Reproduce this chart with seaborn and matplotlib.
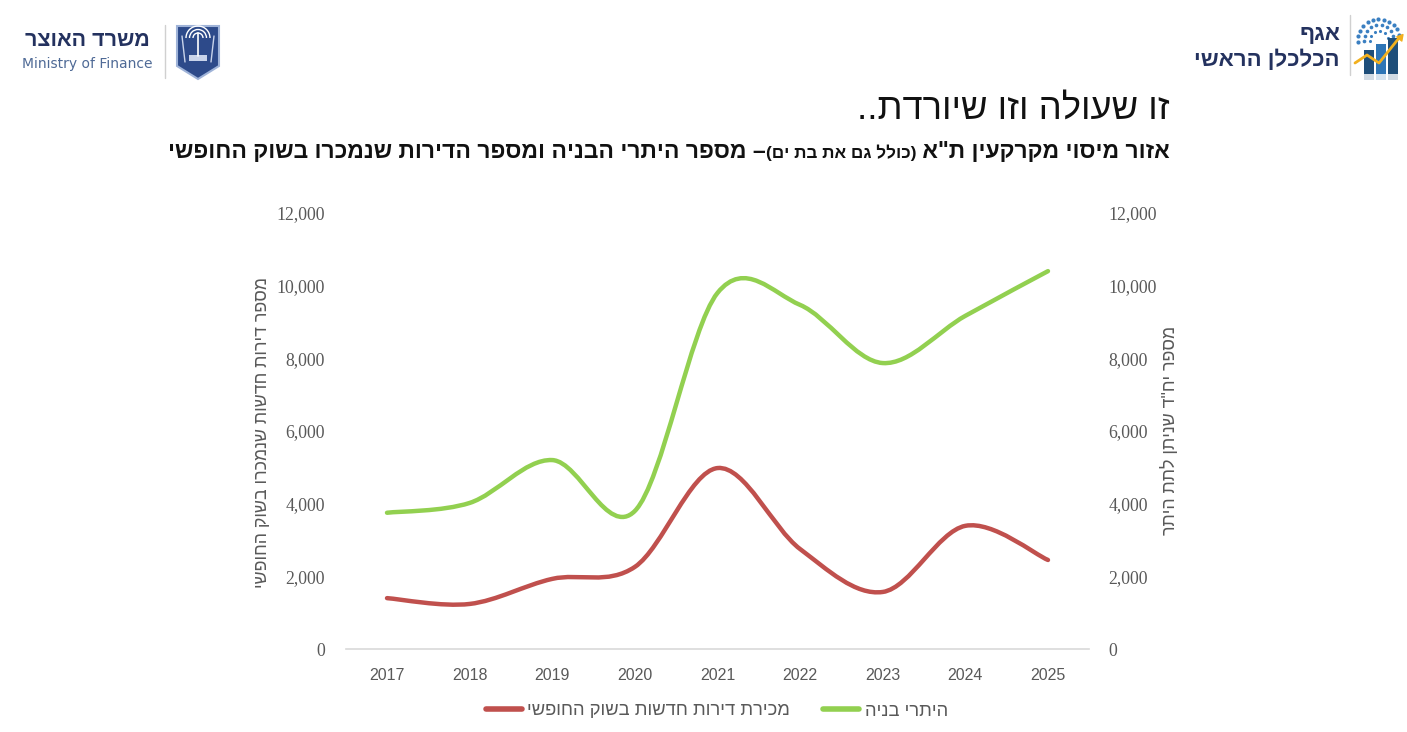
import numpy as np
import matplotlib
matplotlib.use("Agg")
import matplotlib.pyplot as plt
import seaborn as sns
from matplotlib.path import Path
from matplotlib.patches import PathPatch, Polygon, Rectangle, Arc
from matplotlib.lines import Line2D
from matplotlib import font_manager

# ---- data ----
years = [2017, 2018, 2019, 2020, 2021, 2022, 2023, 2024, 2025]
permits = [3750, 4020, 5200, 3800, 9800, 9470, 7870, 9170, 10400]
sales = [1400, 1240, 1930, 2260, 4980, 2750, 1570, 3390, 2450]
yticks = [0, 2000, 4000, 6000, 8000, 10000, 12000]

title_text = "זו שעולה וזו שיורדת.."
subtitle_parts = ["אזור מיסוי מקרקעין ת\"א ", "(כולל גם את בת ים)",
                  "– מספר היתרי הבניה ומספר הדירות שנמכרו בשוק החופשי"]
left_label = "מספר דירות חדשות שנמכרו בשוק החופשי"
right_label = "מספר יח\"ד שניתן לתת היתר"
sales_label = "מכירת דירות חדשות בשוק החופשי"
permits_label = "היתרי בניה"
mof_he = "משרד האוצר"
mof_en = "Ministry of Finance"
ce_line1 = "אגף"
ce_line2 = "הכלכלן הראשי"

GREEN = "#92d050"
RED = "#c0504d"
GREY = "#595959"
NAVY = "#24325f"


def visual(s):
    # matplotlib has no bidi support: lay Hebrew out in visual order
    mirror = {"(": ")", ")": "("}
    return "".join(mirror.get(c, c) for c in reversed(s))


def pick(cands):
    for c in cands:
        try:
            font_manager.findfont(c, fallback_to_default=False)
            return c
        except Exception:
            pass
    return "DejaVu Sans"


def smooth_path(xs, ys):
    # Excel-style smoothed line: cubic Bezier segments through the data points
    pts = np.column_stack([xs, ys]).astype(float)
    ext = np.vstack([pts[0], pts, pts[-1]])
    verts, codes = [pts[0]], [Path.MOVETO]
    for i in range(len(pts) - 1):
        p0, p1, p2, p3 = ext[i], ext[i + 1], ext[i + 2], ext[i + 3]
        verts += [p1 + (p2 - p0) / 6, p2 - (p3 - p1) / 6, p2]
        codes += [Path.CURVE4] * 3
    return Path(verts, codes)


sns.set_theme(style="white")
HEB = ["Liberation Sans", "DejaVu Sans"]
SERIF = pick(["Liberation Serif", "DejaVu Serif"])
NARROW = pick(["Liberation Sans Narrow", "Liberation Sans"])
plt.rcParams["font.family"] = HEB

W, H = 1407, 732
fig = plt.figure(figsize=(W / 100, H / 100), dpi=100)
fig.patch.set_facecolor("white")
renderer = fig.canvas.get_renderer()


def fy(y):
    return 1 - y / H


def fit(t, target, vertical=False):
    bb = t.get_window_extent(renderer)
    cur = bb.height if vertical else bb.width
    t.set_fontsize(t.get_fontsize() * target / cur)


# ---- main axes ----
ax = fig.add_axes([345.7 / W, fy(649), (1089.3 - 345.7) / W, (649 - 213) / H])
ax2 = ax.twinx()
for a in (ax, ax2):
    a.set_xlim(2016.5, 2025.5)
    a.set_ylim(0, 12000)
    a.set_yticks(yticks)
    a.set_yticklabels([f"{v:,}" for v in yticks], fontfamily=SERIF,
                      fontsize=12.8, color=GREY)
    a.tick_params(axis="both", length=0)
    a.grid(False)
sns.despine(ax=ax, left=True, right=True, top=True)
sns.despine(ax=ax2, left=True, right=True, top=True, bottom=True)
ax.spines["bottom"].set_color("#d9d9d9")
ax.spines["bottom"].set_linewidth(1.2)
ax.tick_params(axis="y", pad=15)
ax2.tick_params(axis="y", pad=14)
ax.set_xticks(years)
ax.set_xticklabels([str(y) for y in years], fontfamily=NARROW, fontsize=11.5, color=GREY)
ax.tick_params(axis="x", pad=14)
ax.set_facecolor("none")

ax.add_patch(PathPatch(smooth_path(years, sales), facecolor="none", edgecolor=RED,
                       lw=3.2, capstyle="round", joinstyle="round", zorder=3))
ax2.add_patch(PathPatch(smooth_path(years, permits), facecolor="none", edgecolor=GREEN,
                        lw=3.2, capstyle="round", joinstyle="round", zorder=3))

# axis titles
tl = fig.text(262 / W, fy(432), visual(left_label), rotation=90, ha="center",
              va="center", fontsize=12, color=GREY)
fit(tl, 310, vertical=True)
fig.text(1170 / W, fy(430), visual(right_label), rotation=90, ha="center",
         va="center", fontsize=tl.get_fontsize(), color=GREY)

# legend
handles = [Line2D([], [], color=RED, lw=4, solid_capstyle="round"),
           Line2D([], [], color=GREEN, lw=4, solid_capstyle="round")]
fig.legend(handles, [visual(sales_label), visual(permits_label)], ncol=2,
           loc="center", bbox_to_anchor=(717 / W, fy(711)), frameon=False,
           fontsize=13.2, labelcolor=GREY, handlelength=1.95, handletextpad=0.3,
           columnspacing=1.8)

# ---- titles ----
tt = fig.text(1170 / W, fy(119), visual(title_text), ha="right", va="baseline",
              fontsize=24, color="#111111")
fit(tt, 312)

big, small = 16.0, 12.0
parts = [fig.text(0, fy(158), visual(p), ha="right", va="baseline", weight="bold",
                  fontsize=(small if i == 1 else big), color="#111111")
         for i, p in enumerate(subtitle_parts)]
total = sum(p.get_window_extent(renderer).width for p in parts)
scale = 1002 / total
for p in parts:
    p.set_fontsize(p.get_fontsize() * scale)
x_right = 1170
for p in parts:
    p.set_x(x_right / W)
    x_right -= p.get_window_extent(renderer).width

# ---- logos ----
deco = fig.add_axes([0, 0, 1, 1], zorder=-1)
deco.set_xlim(0, W)
deco.set_ylim(H, 0)
deco.axis("off")

fig.text(150 / W, fy(40), visual(mof_he), ha="right", va="center", fontsize=15.5,
         weight="bold", color=NAVY)
fig.text(152 / W, fy(64), mof_en, ha="right", va="center", fontsize=10,
         color="#4f6a96", family="DejaVu Sans")
deco.plot([165, 165], [25, 78], color="#d0d0d0", lw=1)
deco.add_patch(Polygon([(177, 26), (219, 26), (219, 66), (198, 79), (177, 66)],
                       closed=True, facecolor="#2d4a8a", edgecolor="#9fb3d8", lw=1.5))
for r in (5, 8.5, 12):
    deco.add_patch(Arc((198, 38), 2 * r, 2 * r, theta1=180, theta2=360,
                       color="white", lw=1))
deco.plot([198, 198], [33, 56], color="white", lw=1.2)
deco.add_patch(Rectangle((189, 55), 18, 6, facecolor="#c8d3ea", edgecolor="none"))
deco.plot([182, 185], [36, 62], color="#c8d3ea", lw=1)
deco.plot([214, 211], [36, 62], color="#c8d3ea", lw=1)

fig.text(1340 / W, fy(35), visual(ce_line1), ha="right", va="center", fontsize=16,
         weight="bold", color=NAVY)
fig.text(1340 / W, fy(60), visual(ce_line2), ha="right", va="center", fontsize=16,
         weight="bold", color=NAVY)
deco.plot([1350, 1350], [15, 75], color="#d0d0d0", lw=1)
# dotted sunburst
for ring, rad in enumerate((9, 15, 21)):
    ang = np.linspace(np.radians(15), np.radians(185), 6 + 3 * ring)
    deco.scatter(1379 + rad * np.cos(ang), 40 - rad * np.sin(ang),
                 s=5 + ring * 2, color="#3a7fc1", linewidths=0, zorder=2)
# bars with a faded reflection
for bx, top, col in ((1364, 50, "#1f4e79"), (1376, 44, "#2e75b6"), (1388, 38, "#1f4e79")):
    deco.add_patch(Rectangle((bx, top), 10, 74 - top, facecolor=col, edgecolor="none", zorder=3))
    deco.add_patch(Rectangle((bx, 74), 10, 6, facecolor=col, alpha=0.2, edgecolor="none", zorder=3))
deco.plot([1355, 1367, 1379, 1399], [63, 55, 63, 38], color="#f2b01e", lw=2, zorder=4)
deco.scatter([1400], [37], marker=(3, 0, -40), s=30, color="#f2b01e", zorder=4)

fig.savefig("out.png", dpi=100, facecolor="white")
